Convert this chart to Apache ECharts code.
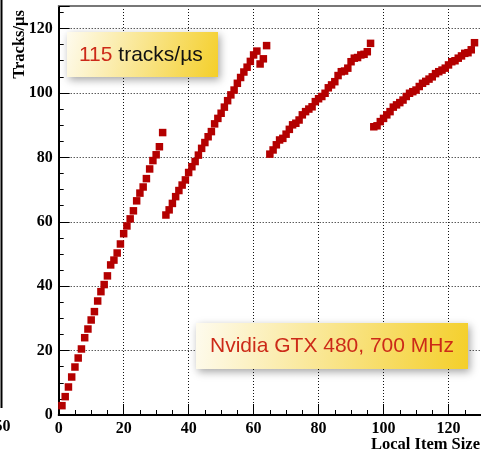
<!DOCTYPE html>
<html><head><meta charset="utf-8">
<script src="https://cdn.jsdelivr.net/npm/echarts@6/dist/echarts.min.js"></script>
<style>html,body{margin:0;padding:0;background:#fff}#c{width:481px;height:455px}</style>
</head><body><div id="c"></div>
<script>
const itemSizes = [
  1,2,3,4,5,6,7,8,9,10,11,12,13,14,15,16,17,18,19,20,21,22,23,24,25,26,27,28,29,30,31,32,
  33,34,35,36,37,38,39,40,41,42,43,44,45,46,47,48,49,50,51,52,53,54,55,56,57,58,59,60,61,62,63,64,
  65,66,67,68,69,70,71,72,73,74,75,76,77,78,79,80,81,82,83,84,85,86,87,88,89,90,91,92,93,94,95,96,
  97,98,99,100,101,102,103,104,105,106,107,108,109,110,111,112,113,114,115,116,117,118,119,120,121,122,123,124,125,126,127,128
];
const tracksPerUs = [
  2.9,5.7,8.7,11.8,14.9,17.7,20.5,24,26.7,29.5,32.1,35.4,38.3,40.5,43.2,46.6,48.1,50.3,53.1,56.3,58.7,60.9,63.4,66.5,68.9,70.8,73.4,76.4,79,80.8,83.3,87.7,
  62.1,63.7,65.7,67.8,69.7,71.4,73,75.3,77.1,78.7,80.7,82.8,84.6,86.4,88,90.4,92.1,93.7,95.6,97.6,99.4,100.9,103,104.8,106.5,108,109.8,111.8,113,109,110.6,114.7,
  81,82.3,83.9,85.4,85.9,87.2,88.7,90.1,90.6,91.6,93.2,94.2,95,95.7,97.3,98.2,98.9,99.9,101.6,102.5,103.5,105.4,106.6,106.8,107.7,109.7,110.8,111,111.8,112,112.8,115.4,
  89.5,89.8,91.1,92.1,93.2,94.2,95.6,96.3,97,97.8,98.9,99.9,100.4,100.9,102,103,103.6,104.3,105,106,106.6,107.1,107.7,108.7,109.7,110,110.8,111.5,112.3,112.5,113.4,115.6
];
const xTitle = 'Local Item Size';
const yTitle = 'Tracks/µs';
const note1Value = '115';
const note1Unit = ' tracks/µs';
const note2 = 'Nvidia GTX 480, 700 MHz';

const serif = 'Liberation Serif, DejaVu Serif, serif';
const sans = 'Liberation Sans, Arial, sans-serif';
const boxFill = {type:'linear',x:0,y:0,x2:1,y2:1,colorStops:[{offset:0,color:'#fefbee'},{offset:1,color:'#f4cf2a'}]};

const chart = echarts.init(document.getElementById('c'), null, {renderer:'canvas'});
chart.setOption({
  animation:false,
  backgroundColor:'#fff',
  grid:{left:58.7, top:6, width:425, height:409},
  xAxis:[{
    type:'value', min:0, max:130, interval:20,
    axisLine:{lineStyle:{color:'#000',width:2}},
    axisTick:{inside:true,length:11,lineStyle:{color:'#000',width:1}},
    minorTick:{show:true,splitNumber:4,length:5,lineStyle:{color:'#000',width:1}},
    axisLabel:{fontFamily:serif,fontWeight:'bold',fontSize:16,color:'#000',margin:6,showMaxLabel:false},
    splitLine:{show:true,lineStyle:{type:[1,2],color:'#111',width:1}}
  },{
    type:'value', position:'top', min:0, max:130,
    axisLine:{show:true,lineStyle:{color:'#777',width:2}},
    axisTick:{show:false}, axisLabel:{show:false}, splitLine:{show:false}
  }],
  yAxis:{
    type:'value', min:0, max:127, interval:20,
    axisLine:{show:true,lineStyle:{color:'#000',width:2}},
    axisTick:{inside:true,length:11,lineStyle:{color:'#000',width:1}},
    minorTick:{show:true,splitNumber:4,length:5,lineStyle:{color:'#000',width:1}},
    axisLabel:{fontFamily:serif,fontWeight:'bold',fontSize:16,color:'#000',margin:6,showMaxLabel:false},
    splitLine:{show:true,lineStyle:{type:[1,2],color:'#111',width:1}}
  },
  series:[{
    type:'scatter',
    symbol:'rect', symbolSize:7.5,
    itemStyle:{color:'#b40000',opacity:1},
    data:itemSizes.map((x,i)=>[x,tracksPerUs[i]]),
    z:5
  }],
  graphic:[
    {type:'line',shape:{x1:1.5,y1:0,x2:1.5,y2:408},style:{stroke:'#000',lineWidth:2}},
    {type:'text',x:10.5,y:427,style:{text:'50',font:'bold 16px '+serif,fill:'#000',textAlign:'right',textVerticalAlign:'middle'}},
    {type:'text',x:480,y:445,style:{text:xTitle,font:'bold 16.5px '+serif,fill:'#000',textAlign:'right',textVerticalAlign:'middle'}},
    {type:'text',x:20,y:10,rotation:Math.PI/2,style:{text:yTitle,font:'bold 16.5px '+serif,fill:'#000',textAlign:'right',textVerticalAlign:'middle'}},
    {type:'rect',shape:{x:67,y:32,width:151,height:45},z:10,
      style:{fill:boxFill,shadowBlur:8,shadowColor:'rgba(0,0,0,0.35)',shadowOffsetX:2,shadowOffsetY:3}},
    {type:'text',x:79,y:55,z:11,style:{
      text:'{r|'+note1Value+'}{k|'+note1Unit+'}',textVerticalAlign:'middle',
      rich:{r:{fontFamily:sans,fontSize:21,fill:'#cc2a18',color:'#cc2a18'},k:{fontFamily:sans,fontSize:21,fill:'#111',color:'#111'}}}},
    {type:'rect',shape:{x:196,y:323,width:272,height:46},z:10,
      style:{fill:boxFill,shadowBlur:8,shadowColor:'rgba(0,0,0,0.35)',shadowOffsetX:2,shadowOffsetY:3}},
    {type:'text',x:332,y:346,z:11,style:{text:note2,font:'21px '+sans,fill:'#cc2a18',textAlign:'center',textVerticalAlign:'middle'}}
  ]
});
</script></body></html>
